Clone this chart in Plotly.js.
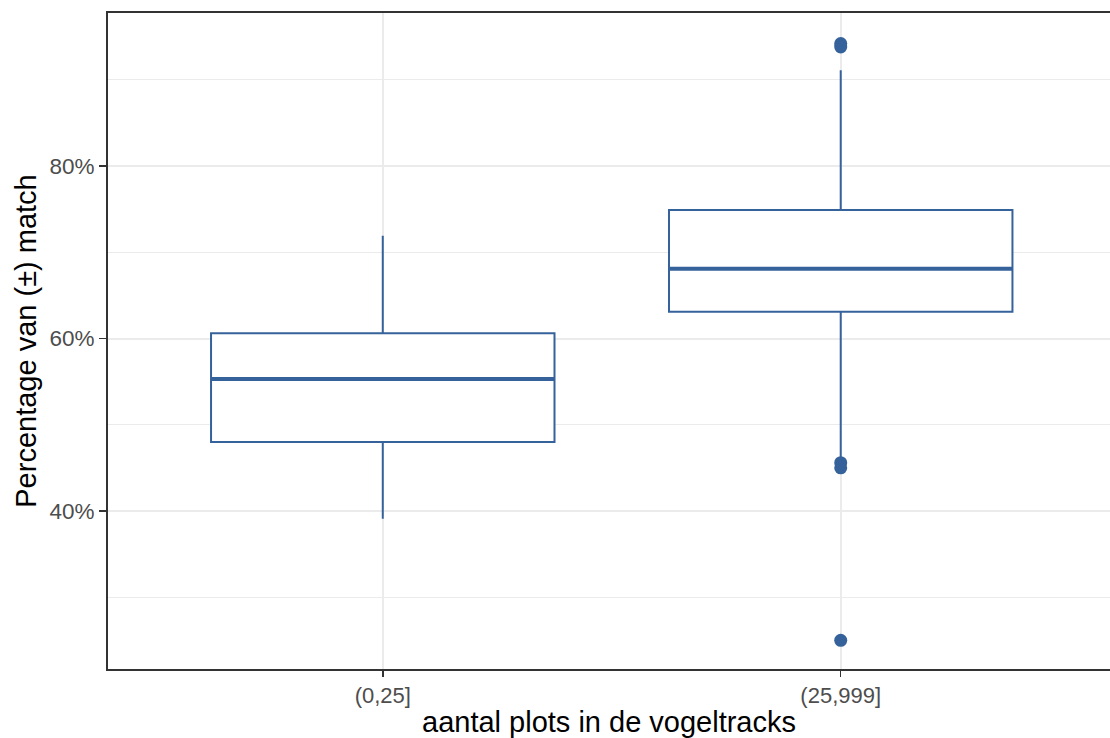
<!DOCTYPE html>
<html>
<head>
<meta charset="utf-8">
<script src="https://cdn.plot.ly/plotly-3.0.1.min.js"></script>
<style>html,body{margin:0;padding:0;background:#fff;}#chart{width:1110px;height:738px;}</style>
</head>
<body>
<div id="chart"></div>
<script>
// Match percentage by number of plots in the bird tracks
const categories = ["(0,25]", "(25,999]"];
const q1 = [48.0, 63.1];
const medians = [55.3, 68.1];
const q3 = [60.6, 74.9];
const lowerWhisker = [39.1, 46.0];
const upperWhisker = [71.9, 91.1];
// outliers per category
const outliers = [[], [94.2, 93.8, 45.6, 45.0, 25.0]];
const yTicks = [40, 60, 80];
const yMinor = [30, 50, 70, 90];

const col = "#35629b";
const boxWidth = 0.75;
const pos = categories.map((c, i) => i);

const traces = [];
traces.push({
  type: "box",
  x: pos,
  q1: q1, median: medians, q3: q3,
  lowerfence: lowerWhisker, upperfence: upperWhisker,
  width: boxWidth,
  fillcolor: "white",
  line: {color: col, width: 2},
  whiskerwidth: 0,
  boxpoints: false,
  hoverinfo: "skip",
  showlegend: false
});
// thicker median bars
pos.forEach((p, i) => {
  traces.push({
    type: "scatter", mode: "lines",
    x: [p - boxWidth / 2, p + boxWidth / 2],
    y: [medians[i], medians[i]],
    line: {color: col, width: 4},
    hoverinfo: "skip", showlegend: false
  });
});
// outlier points
const ox = [], oy = [];
outliers.forEach((arr, i) => arr.forEach(v => { ox.push(pos[i]); oy.push(v); }));
traces.push({
  type: "scatter", mode: "markers",
  x: ox, y: oy,
  marker: {color: col, size: 13},
  hoverinfo: "skip", showlegend: false
});

const font = "Liberation Sans, Arial, sans-serif";
const layout = {
  width: 1110, height: 738,
  margin: {l: 108, r: 0, t: 13, b: 69},
  paper_bgcolor: "white", plot_bgcolor: "white",
  font: {family: font},
  xaxis: {
    range: [-0.6, 1.588],
    tickvals: pos, ticktext: categories,
    ticks: "outside", ticklen: 6, tickwidth: 1.5, tickcolor: "#333333",
    tickfont: {size: 22, color: "#4d4d4d", family: font},
    showgrid: true, gridcolor: "#ebebeb", gridwidth: 2,
    showline: true, linecolor: "#333333", linewidth: 2, mirror: true,
    zeroline: false,
    title: {text: "aantal plots in de vogeltracks", font: {size: 29, color: "#000", family: font}, standoff: 4}
  },
  yaxis: {
    range: [21.68, 97.74],
    tickvals: yTicks, ticktext: yTicks.map(v => v + "%"),
    ticks: "outside", ticklen: 7, tickwidth: 1.5, tickcolor: "#333333",
    tickfont: {size: 22.5, color: "#4d4d4d", family: font},
    showgrid: true, gridcolor: "#ebebeb", gridwidth: 2,
    minor: {tickvals: yMinor, showgrid: true, gridcolor: "#ebebeb", gridwidth: 1, ticks: ""},
    showline: true, linecolor: "#333333", linewidth: 2, mirror: false,
    zeroline: false,
    title: {text: "Percentage van (±) match", font: {size: 29, color: "#000", family: font}, standoff: 4}
  }
};

Plotly.newPlot("chart", traces, layout, {displayModeBar: false, staticPlot: true});
</script>
</body>
</html>
